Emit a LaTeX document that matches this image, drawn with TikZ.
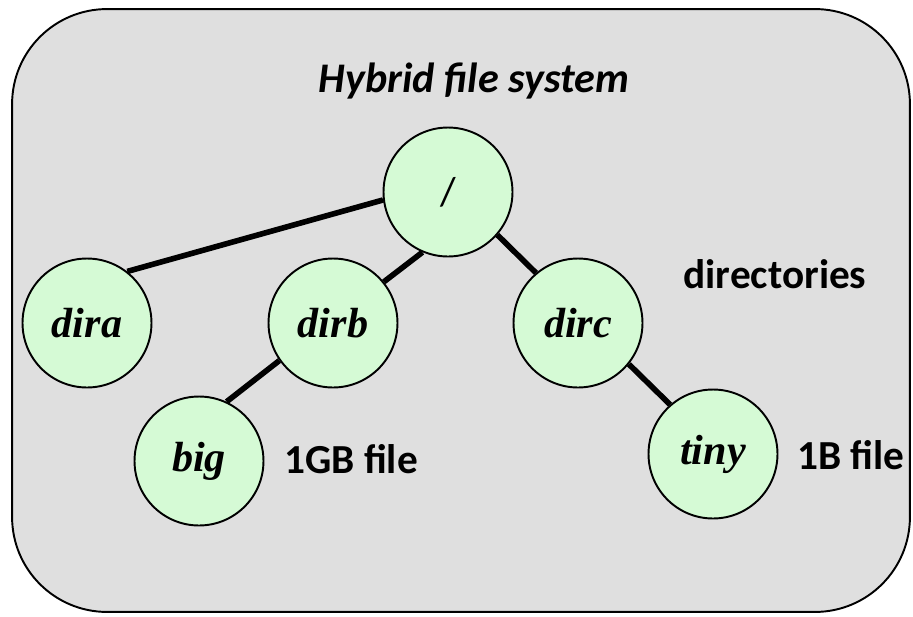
\documentclass[tikz,border=0pt]{standalone}
\usepackage{fontspec}
\setmainfont{Liberation Serif}
\setsansfont{Carlito}
\definecolor{fs_gray}{RGB}{223, 223, 223}
\definecolor{fs_green}{RGB}{213, 250, 213}
\tikzstyle{dn}=[circle,fill=fs_green,draw=black,line width=1.1pt,
  inner sep=0pt,minimum size=2.58cm,font=\fontsize{24}{28}\selectfont\bfseries\itshape]
\tikzstyle{lb}=[inner sep=0pt,font=\fontsize{23.5}{28}\selectfont\sffamily\bfseries]
\tikzstyle{ed}=[line width=3.2pt]

\begin{document}
\begin{tikzpicture}[x=0.02cm,y=-0.02cm]
    \useasboundingbox (0,0) rectangle (913,616);
    \node [draw=black,fill=fs_gray,line width=1.1pt,rounded corners=1.9cm,
      minimum width=17.96cm,minimum height=12.06cm,inner sep=0pt] (box) at (461,310.5) {};
    \node [style=lb,font=\fontsize{24}{28}\selectfont\sffamily\bfseries\itshape,anchor=base] (title) at (474,92) {Hybrid file system};
    \node [style=dn,font=\fontsize{23}{27}\selectfont\sffamily] (root) at (448,192) {/};
    \node [style=dn] (dira) at (87,323) {dira};
    \node [style=dn] (dirb) at (333,323) {dirb};
    \node [style=dn] (dirc) at (578,323) {dirc};
    \node [style=dn] (big) at (199,461) {big};
    \node [style=dn] (tiny) at (713,454) {tiny};
    \node [style=lb,anchor=base] (dirs) at (775,288) {directories};
    \node [style=lb,anchor=base west] (bigl) at (284,473) {1GB file};
    \node [style=lb,anchor=base west] (tinyl) at (797,469) {1B file};
    \draw [style=ed] (root.187) to (dira.52);
    \draw [style=ed] (root.247) to (dirb.39);
    \draw [style=ed] (root.319) to (dirc.130);
    \draw [style=ed] (dirb.215) to (big.65);
    \draw [style=ed] (dirc.321) to (tiny.131);
  \end{tikzpicture}
\end{document}
